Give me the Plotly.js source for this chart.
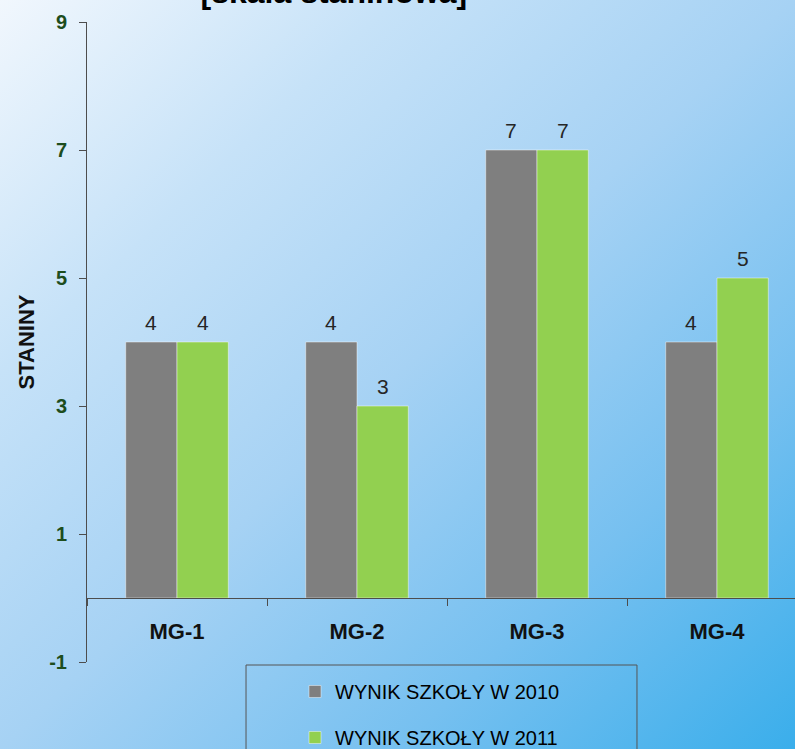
<!DOCTYPE html>
<html>
<head>
<meta charset="utf-8">
<script src="https://cdn.plot.ly/plotly-3.0.1.min.js"></script>
<style>
  html, body { margin: 0; padding: 0; }
  body {
    width: 795px; height: 749px; overflow: hidden;
    background: linear-gradient(to bottom right, #f1f7fd 0%, #c6e2f8 25%, #a6d2f4 50%, #76c0f0 75%, #3aaeeb 100%);
  }
  #chart { width: 795px; height: 749px; }
</style>
</head>
<body>
<div id="chart"></div>
<script>
// ---- data ----
const categories = ["MG-1", "MG-2", "MG-3", "MG-4"];
const seriesNames = ["WYNIK SZKOŁY W 2010", "WYNIK SZKOŁY W 2011"];
const values2010 = [4, 4, 7, 4];
const values2011 = [4, 3, 7, 5];
const yTickVals = [-1, 1, 3, 5, 7, 9];
const titleText = "[skala staninowa]";
const yTitle = "STANINY";

// ---- styles ----
const FONT = 'Arial, "Liberation Sans", sans-serif';
const colors = ["#7f7f7f", "#92d050"];
const bargap = 0.43;
const plotW = 795 - 87;
const catPx = plotW / (3.4333 + 0.5);
const barPx = catPx * (1 - bargap) / 2;

const traces = [values2010, values2011].map((vals, i) => ({
  type: "bar",
  name: seriesNames[i],
  x: categories,
  y: vals,
  marker: { color: colors[i], line: { color: "rgba(255,255,255,0.45)", width: 1 } },
  legendgroup: "g" + i,
  hoverinfo: "x+y+name"
}));

// value labels above bars, positioned by the library's scales
const annotations = [];
[values2010, values2011].forEach((vals, i) => {
  vals.forEach((v, k) => {
    annotations.push({
      x: categories[k], y: v, xref: "x", yref: "y",
      text: String(v), showarrow: false,
      xanchor: "center", yanchor: "bottom",
      xshift: (i === 0 ? -1 : 1) * barPx / 2,
      yshift: 6,
      font: { family: FONT, size: 21, color: "#262626" }
    });
  });
});

const layout = {
  width: 795, height: 749,
  paper_bgcolor: "rgba(0,0,0,0)",
  plot_bgcolor: "rgba(0,0,0,0)",
  margin: { l: 87, r: 0, t: 22, b: 87, pad: 0, autoexpand: false },
  barmode: "group",
  bargap: bargap,
  bargroupgap: 0,
  title: {
    text: titleText,
    font: { family: FONT, size: 32, color: "#000", weight: "bold" },
    x: 0.42, xanchor: "center",
    yref: "paper", y: 1, yanchor: "bottom",
    pad: { b: 19, t: 0, l: 0, r: 0 },
    automargin: false
  },
  xaxis: {
    type: "category",
    range: [-0.5, 3.4333],
    anchor: "free", position: 0.1,
    showline: true, linecolor: "#4d4d4d", linewidth: 1,
    ticks: "outside", tickson: "boundaries", ticklen: 7, tickcolor: "#4d4d4d",
    ticklabelstandoff: 14,
    tickfont: { family: FONT, size: 22, color: "#111", weight: "bold" },
    showgrid: false, zeroline: false, automargin: false,
    fixedrange: true
  },
  yaxis: {
    range: [-1, 9],
    tickvals: yTickVals,
    ticktext: yTickVals.map(String),
    showline: true, linecolor: "#4d4d4d", linewidth: 1,
    ticks: "outside", ticklen: 7, tickcolor: "#4d4d4d",
    ticklabelstandoff: 8,
    tickfont: { family: FONT, size: 20, color: "#1d4d1d", weight: "bold" },
    showgrid: false, zeroline: false, automargin: false,
    title: { text: yTitle, font: { family: FONT, size: 22, color: "#111", weight: "bold" }, standoff: 8 },
    fixedrange: true
  },
  showlegend: true,
  legend: {
    x: 0.2938, y: -0.0156, xanchor: "left", yanchor: "top",
    orientation: "v",
    traceorder: "grouped",
    tracegroupgap: 17,
    bgcolor: "rgba(0,0,0,0)",
    borderwidth: 0,
    font: { family: FONT, size: 20, color: "#000" }
  },
  shapes: [{
    type: "rect", xref: "paper", yref: "paper",
    x0: 0.2246, x1: 0.7768, y0: -0.0047, y1: -0.2,
    line: { color: "#555", width: 1 },
    fillcolor: "rgba(0,0,0,0)",
    layer: "below"
  }],
  annotations: annotations
};

Plotly.newPlot("chart", traces, layout, { displayModeBar: false, staticPlot: true });
</script>
</body>
</html>
